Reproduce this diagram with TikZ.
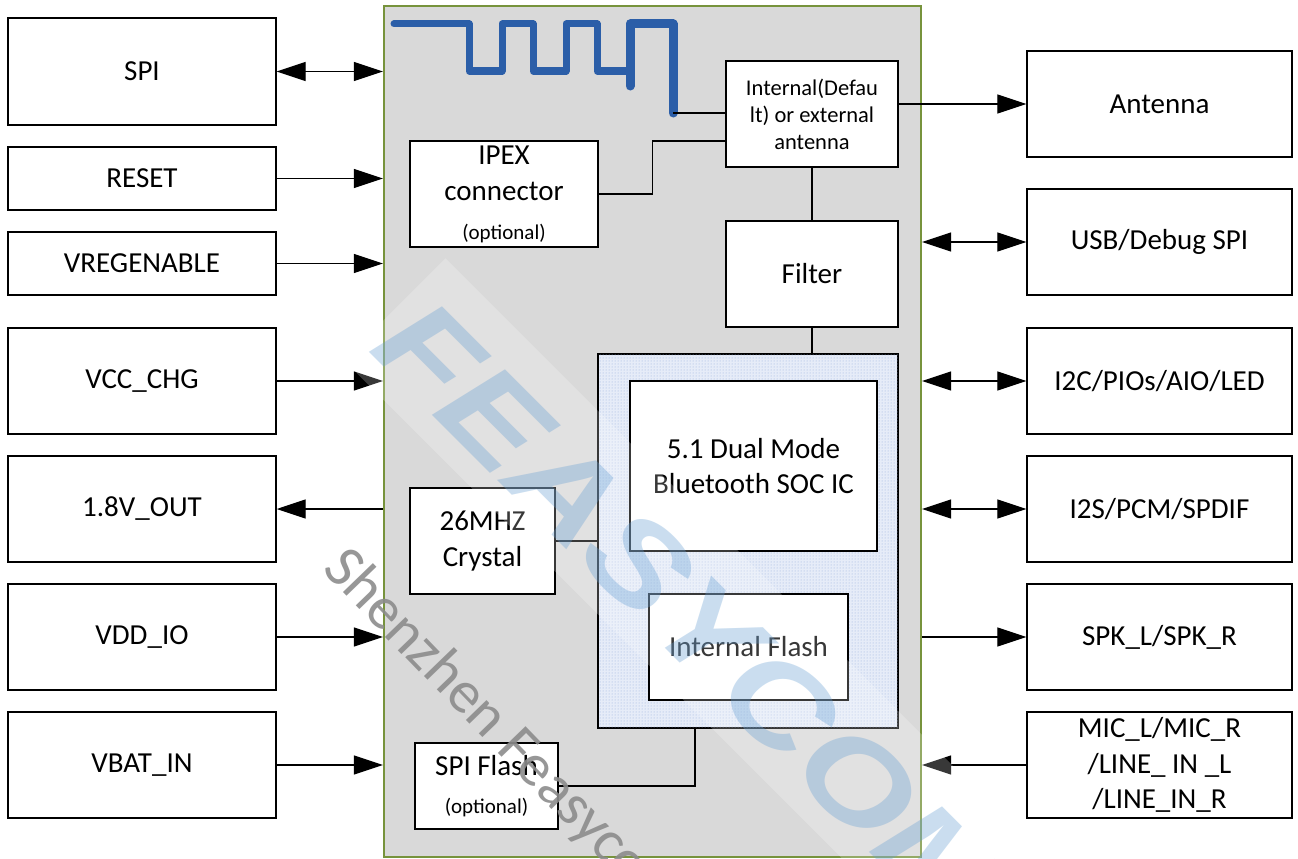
\documentclass[tikz,border=0pt]{standalone}
\usepackage{fontspec}
\setmainfont{Carlito}
\newfontfamily\wmfont[FakeStretch=1.2]{Liberation Sans}
\usetikzlibrary{arrows.meta,patterns,calc}
\definecolor{modfill}{RGB}{217,217,217}
\definecolor{modedge}{RGB}{119,147,60}
\definecolor{tracecol}{RGB}{43,94,168}
\definecolor{dotcol}{RGB}{150,175,220}
\definecolor{soctint}{RGB}{230,236,248}
\definecolor{wmblue}{RGB}{100,158,211}
\definecolor{wmgray}{RGB}{140,140,140}
\begin{document}
\begin{tikzpicture}[x=1pt,y=-1pt,
  box/.style={draw=black, line width=1.4pt, fill=white, inner sep=0pt, align=center,
              font=\fontsize{29}{35.4}\selectfont},
  lbox/.style={box, minimum width=268pt},
  rbox/.style={box, minimum width=265pt},
  small/.style={font=\fontsize{22.5}{27}\selectfont},
  tipA/.tip={Triangle[length=29pt,width=19pt]},
  arr/.style={line width=1.3pt, -tipA},
  darr/.style={line width=1.3pt, tipA-tipA},
  conn/.style={line width=1.3pt},
]
\useasboundingbox (0,0) rectangle (1298,859);
\clip (0,0) rectangle (1298,859);
\fill[white] (0,0) rectangle (1298,859);

% module
\node[draw=modedge, line width=2.2pt, fill=modfill, minimum width=537pt, minimum height=851pt, inner sep=0pt]
  (module) at (652.5,431.5) {};

% left boxes
\node[lbox, minimum height=107pt] (spi)   at (142,71.5)  {SPI};
\node[lbox, minimum height=63pt]  (reset) at (142,178.5) {RESET};
\node[lbox, minimum height=63pt]  (vreg)  at (142,263.5) {VREGENABLE};
\node[lbox, minimum height=106pt] (vcc)   at (142,381)   {VCC\_CHG};
\node[lbox, minimum height=106pt] (vout)  at (142,509)   {1.8V\_OUT};
\node[lbox, minimum height=106pt] (vddio) at (142,637)   {VDD\_IO};
\node[lbox, minimum height=106pt] (vbat)  at (142,765)   {VBAT\_IN};

% right boxes
\node[rbox, minimum height=106pt] (antenna) at (1159.5,104) {Antenna};
\node[rbox, minimum height=106pt] (usb)     at (1159.5,242) {USB/Debug SPI};
\node[rbox, minimum height=106pt] (i2c)     at (1159.5,381) {I2C/PIOs/AIO/LED};
\node[rbox, minimum height=106pt] (i2s)     at (1159.5,509) {I2S/PCM/SPDIF};
\node[rbox, minimum height=106pt] (spk)     at (1159.5,637) {SPK\_L/SPK\_R};
\node[rbox, minimum height=106pt] (mic)     at (1159.5,765) {MIC\_L/MIC\_R\\/LINE\_ IN \_L\\/LINE\_IN\_R};

% inner blocks
\node[box, small, minimum width=172pt, minimum height=106pt] (intant) at (812,114)
  {Internal(Defau\\lt) or external\\antenna};
\node[box, minimum width=188pt, minimum height=106pt] (ipex) at (504,194)
  {IPEX\\[1pt]connector\\[3pt]{\fontsize{21}{25}\selectfont (optional)}};
\node[box, minimum width=172pt, minimum height=106pt] (filter) at (812,274) {Filter};
\node[draw=black, line width=1.4pt, fill=soctint, postaction={pattern=dots, pattern color=dotcol},
      minimum width=300pt, minimum height=374pt, inner sep=0pt] (socout) at (748,541) {};
\node[box, minimum width=247pt, minimum height=170pt] (soc) at (753.5,466)
  {5.1 Dual Mode\\Bluetooth SOC IC};
\node[box, minimum width=199pt, minimum height=106pt] (iflash) at (748.5,647) {Internal Flash};
\node[box, minimum width=145pt, minimum height=106pt, font=\fontsize{29}{36}\selectfont] (crystal) at (482.5,541)
  {26MHZ\\Crystal};
\node[box, minimum width=143pt, minimum height=86pt] (spiflash) at (486.5,786)
  {SPI Flash\\[2pt]{\fontsize{21}{25}\selectfont (optional)}};

% antenna trace
\coordinate (tend) at (673,113);
\draw[tracecol, line width=7pt, line cap=round, line join=round]
  (394,24) -- (469,24) -- (469,71) -- (502,71) -- (502,24) -- (533,24) -- (533,71)
  -- (566,71) -- (566,24) -- (597,24) -- (597,71) -- (630,71);
\draw[tracecol, line width=9pt, line cap=round, line join=round]
  (630,86) -- (630,24) -- (673,24) -- (tend);

% inner connectors
\draw[conn] (tend) -- (tend -| intant.west);
\draw[conn] (ipex.east) -- ++(54,0) |- ([yshift=-27pt]intant.west);
\draw[conn] (intant.south) -- (filter.north);
\draw[conn] (filter.south) -- (filter.south |- socout.north);
\draw[conn] (crystal.east) -- (crystal.east -| socout.west);
\draw[conn] (spiflash.east) -| ([xshift=-53pt]socout.south);

% left connectors
\draw[darr] (spi.east) -- (spi.east -| module.west);
\draw[arr] (reset.east) -- (reset.east -| module.west);
\draw[arr] (vreg.east) -- (vreg.east -| module.west);
\draw[arr] (vcc.east) -- (vcc.east -| module.west);
\draw[arr] (vout.east -| module.west) -- (vout.east);
\draw[arr] (vddio.east) -- (vddio.east -| module.west);
\draw[arr] (vbat.east) -- (vbat.east -| module.west);

% right connectors
\draw[arr] (antenna.west -| intant.east) -- (antenna.west);
\draw[darr] (usb.west -| module.east) -- (usb.west);
\draw[darr] (i2c.west -| module.east) -- (i2c.west);
\draw[darr] (i2s.west -| module.east) -- (i2s.west);
\draw[arr] (spk.west -| module.east) -- (spk.west);
\draw[arr] (mic.west) -- (mic.west -| module.east);

% watermark
\fill[white, opacity=0.22] (343.7,360.1) -- (445.5,258.3) -- (1304.6,1117.4) -- (1202.8,1219.2) -- cycle;
\node[anchor=base west, rotate=-45, inner sep=0pt, text=wmblue, text opacity=0.34,
      font=\wmfont\bfseries\itshape\fontsize{122}{122}\selectfont] (wm) at (367,350) {FEASYCOM};
\node[anchor=base west, rotate=-46, inner sep=0pt, text=wmgray, text opacity=0.9,
      font=\fontsize{60}{60}\selectfont] (wm2) at (321,570) {Shenzhen Feasycom};
\end{tikzpicture}
\end{document}
